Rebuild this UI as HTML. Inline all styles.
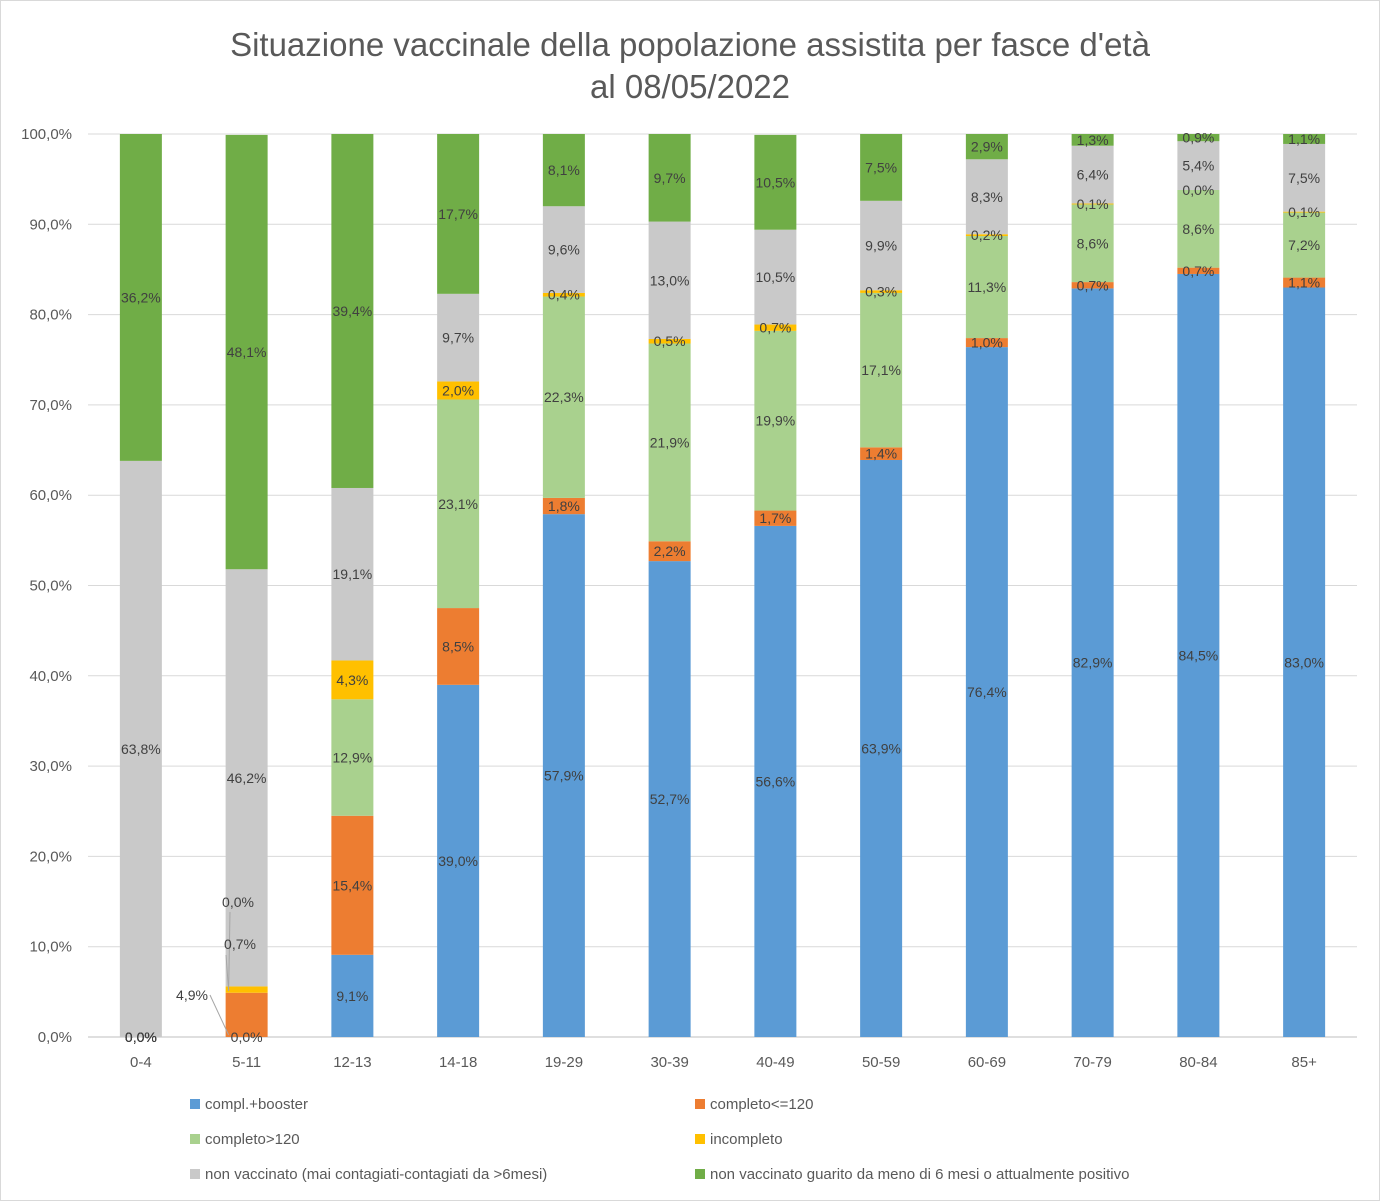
<!DOCTYPE html>
<html><head><meta charset="utf-8"><style>
html,body{margin:0;padding:0;background:#fff;}
svg{display:block;font-family:"Liberation Sans",sans-serif;}
</style></head><body>
<svg id="chart" width="1380" height="1201" viewBox="0 0 1380 1201" xmlns="http://www.w3.org/2000/svg">
<rect x="0.5" y="0.5" width="1379" height="1200" fill="#fff" stroke="#d9d9d9"/>
<text x="690" y="56" text-anchor="middle" font-size="33" fill="#595959">Situazione vaccinale della popolazione assistita per fasce d'età</text>
<text x="690" y="98" text-anchor="middle" font-size="33" fill="#595959">al 08/05/2022</text>
<g id="grid"></g><g id="bars"></g><g id="labels"></g><g id="legend"></g>
</svg>
<script>
const categories=["0-4","5-11","12-13","14-18","19-29","30-39","40-49","50-59","60-69","70-79","80-84","85+"];
const booster=[0,0,9.1,39.0,57.9,52.7,56.6,63.9,76.4,82.9,84.5,83.0];
const completoLe120=[0,4.9,15.4,8.5,1.8,2.2,1.7,1.4,1.0,0.7,0.7,1.1];
const completoGt120=[0,0,12.9,23.1,22.3,21.9,19.9,17.1,11.3,8.6,8.6,7.2];
const incompleto=[0,0.7,4.3,2.0,0.4,0.5,0.7,0.3,0.2,0.1,0.0,0.1];
const nonVacc=[63.8,46.2,19.1,9.7,9.6,13.0,10.5,9.9,8.3,6.4,5.4,7.5];
const guarito=[36.2,48.1,39.4,17.7,8.1,9.7,10.5,7.5,2.9,1.3,0.9,1.1];
const yTicks=[0,10,20,30,40,50,60,70,80,90,100];
const seriesNames=["compl.+booster","completo<=120","completo>120","incompleto","non vaccinato (mai contagiati-contagiati da >6mesi)","non vaccinato guarito da meno di 6 mesi o attualmente positivo"];
const series=[booster,completoLe120,completoGt120,incompleto,nonVacc,guarito];
const colors=["#5B9BD5","#ED7D31","#A9D18E","#FFC000","#C9C9C9","#70AD47"];
const NS="http://www.w3.org/2000/svg";
const X0=88,X1=1357,Y0=1037,Y1=134;
const step=(X1-X0)/categories.length;
const xc=i=>X0+step*(i+0.5);
const y=v=>Y0-(Math.min(v,100))/100*(Y0-Y1);
const fmt=v=>v.toFixed(1).replace('.',',')+'%';
function mk(tag,attrs,parent){const e=document.createElementNS(NS,tag);for(const k in attrs)e.setAttribute(k,attrs[k]);parent.appendChild(e);return e;}
const grid=document.getElementById('grid'),bars=document.getElementById('bars'),labels=document.getElementById('labels'),legend=document.getElementById('legend');
yTicks.forEach(t=>{
  const l=mk('line',{x1:X0,x2:X1,y1:y(t),y2:y(t),stroke:t===0?'#bfbfbf':'#d9d9d9','stroke-width':1},grid);
  
  
  const tx=mk('text',{x:72,y:y(t)+5,'text-anchor':'end','font-size':15,fill:'#595959'},grid);
  tx.textContent=t.toFixed(1).replace('.',',')+'%';
  
  
});
const bw=42;
categories.forEach((c,i)=>{
  let cum=0;
  series.forEach((s,k)=>{
    const v=s[i];const top=y(cum+v),bot=y(cum);
    const r=mk('rect',{x:xc(i)-bw/2,y:top,width:bw,height:Math.max(0,bot-top),fill:colors[k]},bars);
    
    
    let lx=xc(i),ly=(top+bot)/2+5,anchor='middle';
    if(i===1&&k>=1&&k<=3){
      const pos={1:[192,1000,'middle'],3:[240,949,'middle'],2:[238,907,'middle']}[k];
      const ln=mk('line',{x1:k===1?210:226,y1:k===1?995:955,x2:xc(i)-bw/2+3,y2:bot-2,stroke:'#a6a6a6','stroke-width':1},labels);
      if(k===2){ln.setAttribute('y1',912);ln.setAttribute('x1',230);}
      
      
      lx=pos[0];ly=pos[1];
    }
    const t=mk('text',{x:lx,y:ly,'text-anchor':anchor,'font-size':14,fill:'#404040'},labels);
    t.textContent=fmt(v);
    
    
    cum+=v;
  });
  const xl=mk('text',{x:xc(i),y:1067,'text-anchor':'middle','font-size':15,fill:'#595959'},labels);
  xl.textContent=c;
  
  
});
const lp=[[190,1105],[695,1105],[190,1140],[695,1140],[190,1175],[695,1175]];
seriesNames.forEach((n,k)=>{
  const g=mk('g',{},legend);
  
  
  mk('rect',{x:lp[k][0],y:lp[k][1]-6,width:10,height:10,fill:colors[k]},g);
  const t=mk('text',{x:lp[k][0]+15,y:lp[k][1]+4,'font-size':15,fill:'#595959'},g);
  t.textContent=n;
});
</script>
</body></html>
